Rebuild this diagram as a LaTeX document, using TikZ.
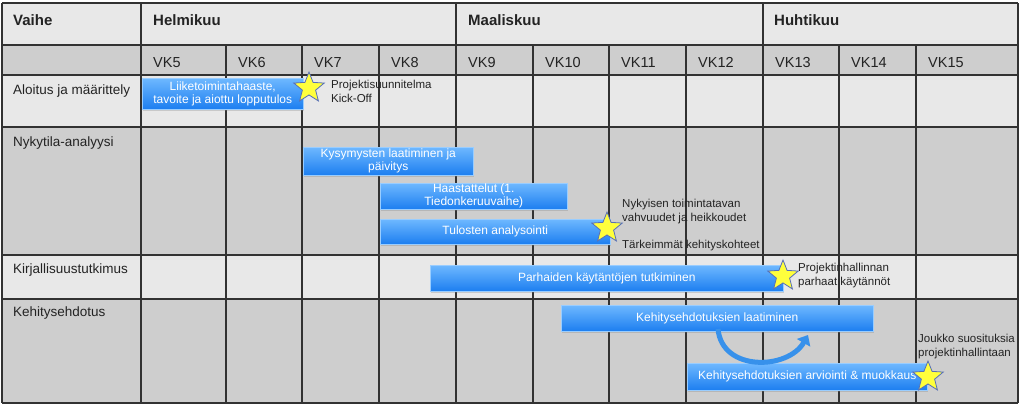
\documentclass[tikz,border=0pt]{standalone}
\usepackage{fontspec}
\setmainfont{Liberation Sans}
\usetikzlibrary{shapes.geometric, arrows.meta, shadows}

\definecolor{lightrow}{RGB}{232,232,232}
\definecolor{darkrow}{RGB}{206,206,206}
\definecolor{gridline}{RGB}{50,50,50}
\definecolor{bartop}{RGB}{110,184,255}
\definecolor{barbottom}{RGB}{28,126,240}
\definecolor{starfill}{RGB}{255,255,60}
\definecolor{staredge}{RGB}{85,110,185}
\definecolor{labeltext}{RGB}{35,35,35}
\definecolor{loopblue}{RGB}{55,145,235}

\tikzset{
  gridrule/.style={gridline, line width=1.5pt},
  headlabel/.style={anchor=base west, inner sep=0, text=labeltext,
    font=\fontsize{15}{18}\selectfont\bfseries},
  weeklabel/.style={anchor=base west, inner sep=0, text=labeltext,
    font=\fontsize{14.5}{17}\selectfont},
  phaselabel/.style={anchor=base west, inner sep=0, text=labeltext,
    font=\fontsize{13.5}{16}\selectfont},
  taskbar/.style={anchor=north west, inner sep=0, align=center,
    top color=bartop, bottom color=barbottom, draw=bartop!70!white,
    line width=0.5pt, text=white, font=\fontsize{12}{13}\selectfont,
    drop shadow={opacity=0.3, shadow xshift=1pt, shadow yshift=-1.5pt}},
  milestone/.style={star, star points=5, star point ratio=2.3,
    minimum size=32pt, inner sep=0, fill=starfill, draw=staredge,
    line width=0.8pt},
  note/.style={anchor=base west, inner sep=0, align=left, text=labeltext,
    font=\fontsize{11.5}{14}\selectfont},
  looparrow/.style={loopblue, line width=5pt,
    -{Triangle[length=9pt, width=15pt]}}
}

\begin{document}
\begin{tikzpicture}[x=1pt, y=-1pt]
\useasboundingbox (0,0) rectangle (1023,405);
% Row backgrounds
\fill[lightrow] (2,3) rectangle (1018,45);
\fill[darkrow] (2,45) rectangle (1018,75);
\fill[lightrow] (2,75) rectangle (1018,127);
\fill[darkrow] (2,127) rectangle (1018,255);
\fill[lightrow] (2,255) rectangle (1018,299);
\fill[darkrow] (2,299) rectangle (1018,403);
% Grid
\foreach \y in {3,45,75,127,255,299,403}
  \draw[gridrule] (2,\y) -- (1018,\y);
\foreach \x in {2,141,456,763,1018}
  \draw[gridrule] (\x,3) -- (\x,403);
\foreach \x in {226,302,379,533,609,686,839,916}
  \draw[gridrule] (\x,45) -- (\x,403);
% Header
\node[headlabel] (vaihe) at (13,25) {Vaihe};
\node[headlabel] (helmikuu) at (153,25) {Helmikuu};
\node[headlabel] (maaliskuu) at (468,25) {Maaliskuu};
\node[headlabel] (huhtikuu) at (774,25) {Huhtikuu};
\foreach \x/\wk in {141/5,226/6,302/7,379/8,456/9,533/10,609/11,686/12,763/13,839/14,916/15}
  \node[weeklabel] (vk\wk) at (\x+12,67) {VK\wk};
% Phases
\node[phaselabel] (aloitus) at (13,94) {Aloitus ja määrittely};
\node[phaselabel] (nykytila) at (13,146) {Nykytila-analyysi};
\node[phaselabel] (kirjallisuus) at (13,273) {Kirjallisuustutkimus};
\node[phaselabel] (kehitys) at (13,316) {Kehitysehdotus};
% Tasks
\node[taskbar, minimum width=161pt, minimum height=31pt] (liike) at (142,78)
  {Liiketoimintahaaste,\\tavoite ja aiottu lopputulos};
\node[taskbar, minimum width=170pt, minimum height=28pt] (kysym) at (303,147)
  {Kysymysten laatiminen ja\\päivitys};
\node[taskbar, minimum width=187pt, minimum height=26pt] (haast) at (380,183)
  {Haastattelut (1.\\Tiedonkeruuvaihe)};
\node[taskbar, minimum width=230pt, minimum height=25pt] (tulos) at (380,219)
  {Tulosten analysointi};
\node[taskbar, minimum width=353pt, minimum height=26pt] (parhaat) at (430,265)
  {Parhaiden käytäntöjen tutkiminen};
\node[taskbar, minimum width=312pt, minimum height=26pt] (laatiminen) at (561,305)
  {Kehitysehdotuksien laatiminen};
\node[taskbar, minimum width=240pt, minimum height=27pt] (arviointi) at (687,363)
  {Kehitysehdotuksien arviointi \& muokkaus};
% Loop between the last two tasks
\coordinate (loop-start) at (718,329);
\coordinate (loop-end) at (808,335);
\draw[looparrow] (loop-start) .. controls (722,372) and (788,370) .. (loop-end);
% Milestones
\node[milestone] (star-suunnitelma) at (309,88) {};
\node[milestone] (star-analyysi) at (607,228) {};
\node[milestone] (star-kaytannot) at (783,276) {};
\node[milestone] (star-suositukset) at (928,377) {};
% Milestone notes (base = last line)
\node[note] (note-suunnitelma) at (331,102) {Projektisuunnitelma\\Kick-Off};
\node[note] (note-vahvuudet) at (622,221) {Nykyisen toimintatavan\\vahvuudet ja heikkoudet};
\node[note] (note-kohteet) at (622,248) {Tärkeimmät kehityskohteet};
\node[note] (note-kaytannot) at (798,285) {Projektinhallinnan\\parhaat käytännöt};
\node[note] (note-suositukset) at (918,356) {Joukko suosituksia\\projektinhallintaan};
\end{tikzpicture}
\end{document}
